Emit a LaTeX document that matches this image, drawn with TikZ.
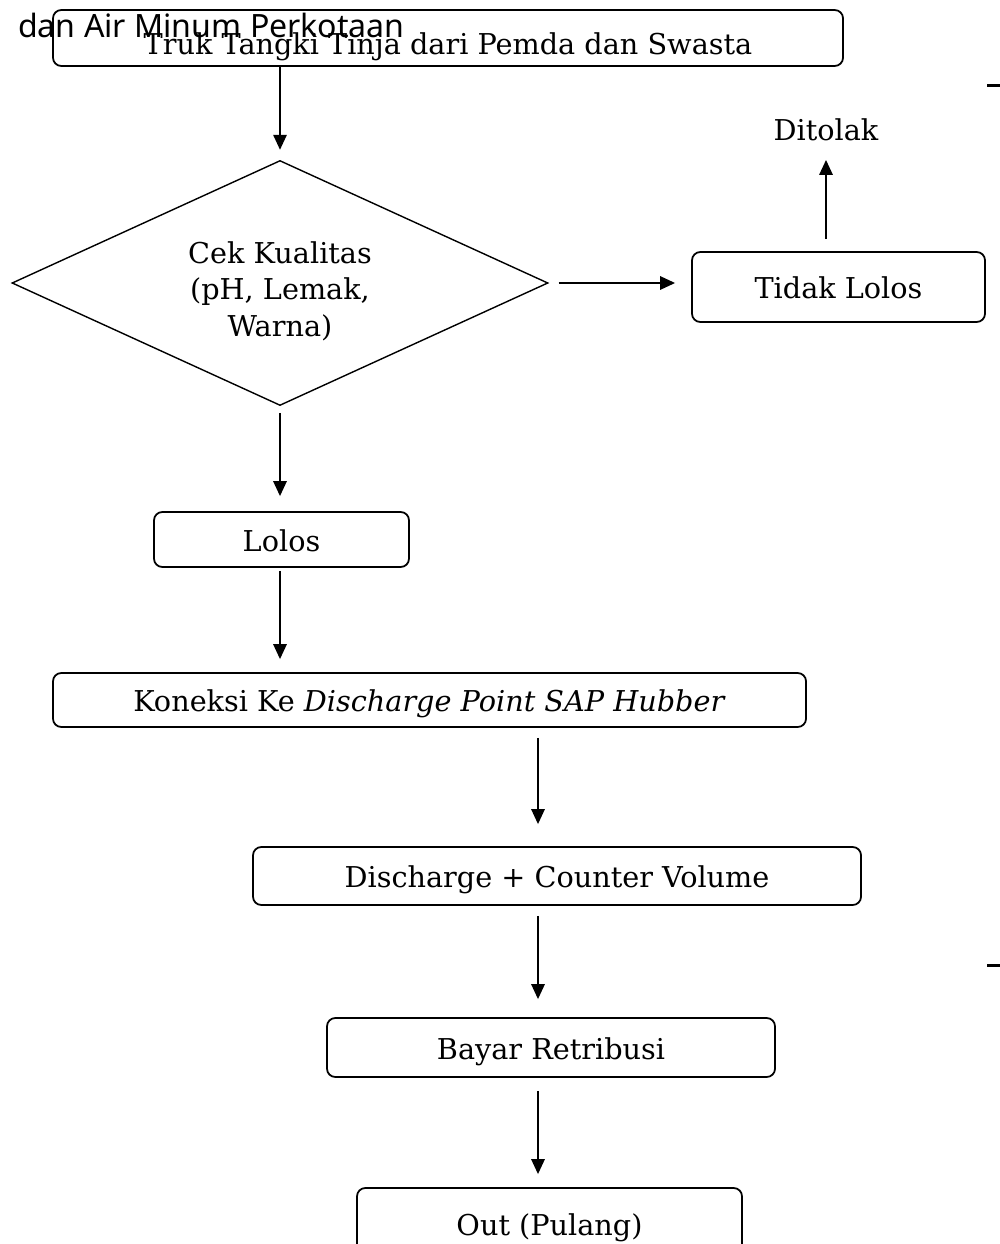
\documentclass[tikz,border=0pt]{standalone}
\usepackage{fontspec}
\setmainfont{DejaVu Serif}
\newfontfamily\notasans{Noto Sans}
\usetikzlibrary{shapes,arrows.meta}

\begin{document}
\begin{tikzpicture}[x=0.03cm,y=-0.03cm]
% \tikzstyle{every path}=[very thick]

\edef\hurufbox{\noexpand\fontsize{24.5pt}{31pt}\noexpand\selectfont}
\tikzstyle{tahap}=[draw,rounded corners=0.25cm,line width=1.5pt,inner sep=0pt,text height=0.7cm,text depth=0cm,font=\hurufbox]
\tikzstyle{cekbox}=[draw,diamond,aspect=2.19,line width=1.2pt,inner sep=0pt,align=center,font=\hurufbox]
\tikzstyle{panah}=[line width=1.7pt,-{Triangle[length=0.45cm,width=0.4cm]}]

\useasboundingbox (0,0) rectangle (999,1244);

%% Kotak alur
\node [tahap,minimum width=23.7cm,minimum height=1.68cm,text height=0.98cm] (truk) at (448,38) {Truk Tangki Tinja dari Pemda dan Swasta};
\node [anchor=base west,inner sep=0pt,font=\notasans\fontsize{27.4pt}{31pt}\selectfont] (judul) at (18,38) {dan Air Minum Perkotaan};
\node [cekbox,minimum width=16.08cm,minimum height=7.35cm] (cek) at (280,283) {\rule{0pt}{1.15cm}Cek Kualitas\\(pH, Lemak,\\Warna)};
\node [tahap,minimum width=8.79cm,minimum height=2.1cm] (tidak) at (838.5,287) {Tidak Lolos};
\node [font=\hurufbox] (tolak) at (826,130) {Ditolak};
\node [tahap,minimum width=7.65cm,minimum height=1.65cm] (lolos) at (281.5,539.5) {Lolos};
\node [tahap,minimum width=22.59cm,minimum height=1.62cm] (koneksi) at (429.5,700) {Koneksi Ke \textit{Discharge Point SAP Hubber}};
\node [tahap,minimum width=18.24cm,minimum height=1.74cm] (buang) at (557,876) {Discharge + Counter Volume};
\node [tahap,minimum width=13.44cm,minimum height=1.77cm] (bayar) at (551,1047.5) {Bayar Retribusi};
\node [tahap,minimum width=11.55cm,minimum height=2.16cm] (pulang) at (549.5,1224) {Out (Pulang)};
\coordinate (sumbu) at (538,0);

%% Panah
\draw [panah,shorten >=0.3cm] (truk.south -| cek.north) -- (cek.north);
\draw [panah,shorten <=0.3cm,shorten >=0.48cm] (cek.east) -- (cek.east -| tidak.west);
\draw [panah,shorten <=0.36cm,shorten >=0.44cm] (tidak.north -| tolak.south) -- (tolak.south);
\draw [panah,shorten <=0.2cm,shorten >=0.45cm] (cek.south) -- (lolos.north -| cek.south);
\draw [panah,shorten <=0.09cm,shorten >=0.39cm] (lolos.south -| cek.south) -- (koneksi.north -| cek.south);
\draw [panah,shorten <=0.3cm,shorten >=0.66cm] (koneksi.south -| sumbu) -- (buang.north -| sumbu);
\draw [panah,shorten <=0.3cm,shorten >=0.54cm] (buang.south -| sumbu) -- (bayar.north -| sumbu);
\draw [panah,shorten <=0.39cm,shorten >=0.39cm] (bayar.south -| sumbu) -- (pulang.north -| sumbu);

%% tanda di tepi kanan
\draw [line width=0.09cm] (987,86) -- (1000,86);
\draw [line width=0.09cm] (987,965) -- (1000,965);

\end{tikzpicture}
\end{document}
